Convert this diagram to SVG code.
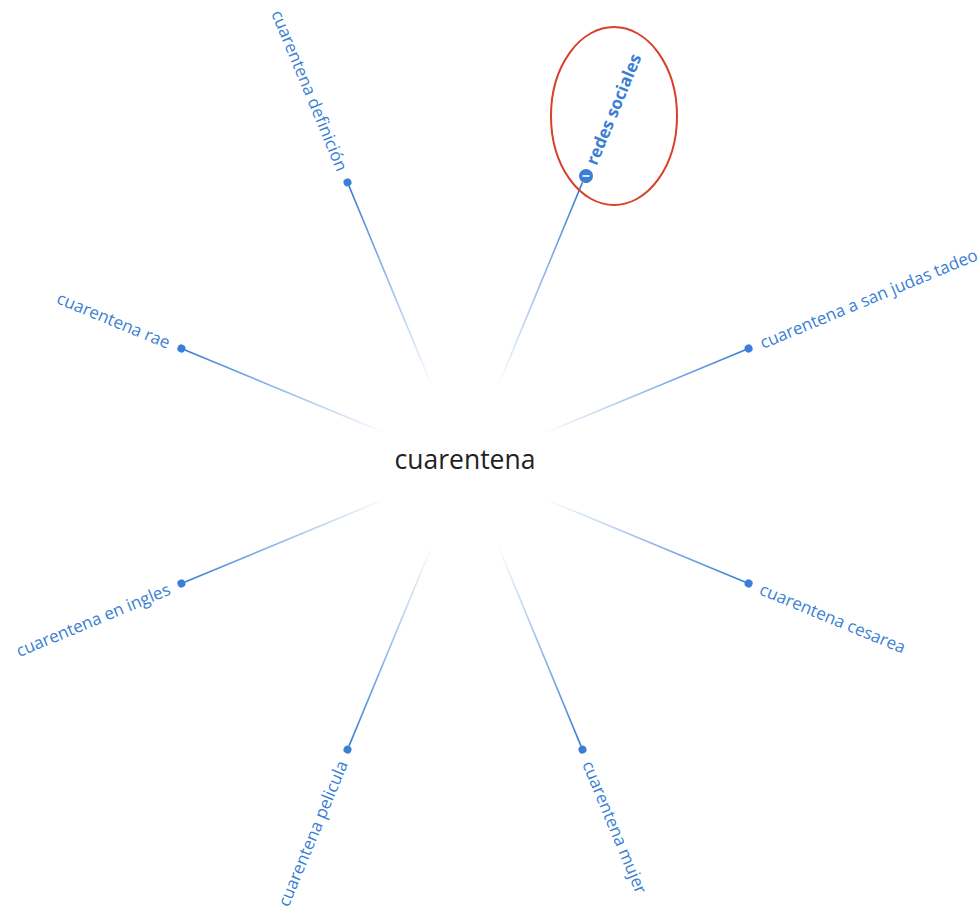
<svg xmlns="http://www.w3.org/2000/svg" width="979" height="910" viewBox="0 0 979 910">
  <style>
    .lbl { font-family: "Open Sans", "Noto Sans", "DejaVu Sans", sans-serif; font-size: 17px; fill: #3a7fd5; }
    .bold { font-weight: bold; }
    .dot { fill: #3a7fd5; }
    .edge { stroke: url(#fade); stroke-width: 1.6; fill: none; }
    .hub { font-family: "Open Sans", "Noto Sans", "DejaVu Sans", sans-serif; font-size: 26.5px; fill: #222; }
  </style>
  <defs>
    <!-- spoke fades out toward the hub; coordinates are along the rotated spoke -->
    <linearGradient id="fade" gradientUnits="userSpaceOnUse" x1="85" y1="0" x2="300" y2="0">
      <stop offset="0" stop-color="#3a7fd5" stop-opacity="0"/>
      <stop offset="1" stop-color="#3a7fd5" stop-opacity="1"/>
    </linearGradient>
  </defs>
  <rect width="979" height="910" fill="#ffffff"/>

  <g id="connectors" transform="translate(465,466)">
    <line class="edge" x1="85" y1="0" x2="307" y2="0" transform="rotate(-22.5)"/>
    <line class="edge" x1="85" y1="0" x2="307" y2="0" transform="rotate(-67.5)"/>
    <line class="edge" x1="85" y1="0" x2="307" y2="0" transform="rotate(-112.5)"/>
    <line class="edge" x1="85" y1="0" x2="307" y2="0" transform="rotate(-157.5)"/>
    <line class="edge" x1="85" y1="0" x2="307" y2="0" transform="rotate(157.5)"/>
    <line class="edge" x1="85" y1="0" x2="307" y2="0" transform="rotate(112.5)"/>
    <line class="edge" x1="85" y1="0" x2="307" y2="0" transform="rotate(67.5)"/>
    <line class="edge" x1="85" y1="0" x2="307" y2="0" transform="rotate(22.5)"/>
  </g>

  <g id="hub">
    <text class="hub" x="465" y="469" text-anchor="middle">cuarentena</text>
  </g>

  <g id="node-san-judas" transform="translate(748.6,348.5) rotate(-22.5)">
    <circle class="dot" r="4"/>
    <text class="lbl" x="13" dy="0.35em">cuarentena a san judas tadeo</text>
  </g>

  <g id="node-redes" transform="translate(586,176) rotate(-67.5)">
    <circle class="dot" r="7"/>
    <line x1="-3.5" y1="0" x2="3.5" y2="0" stroke="#ffffff" stroke-width="1.6" transform="rotate(67.5)"/>
    <text class="lbl bold" x="13" dy="0.35em">redes sociales</text>
  </g>
  <ellipse id="highlight" cx="614" cy="116" rx="63" ry="89" fill="none" stroke="#d9402b" stroke-width="2"/>

  <g id="node-definicion" transform="translate(347.5,182.4) rotate(67.5)">
    <circle class="dot" r="4"/>
    <text class="lbl" x="-13" dy="0.35em" text-anchor="end">cuarentena definición</text>
  </g>

  <g id="node-rae" transform="translate(181.4,348.5) rotate(22.5)">
    <circle class="dot" r="4"/>
    <text class="lbl" x="-13" dy="0.35em" text-anchor="end">cuarentena rae</text>
  </g>

  <g id="node-ingles" transform="translate(181.4,583.5) rotate(-22.5)">
    <circle class="dot" r="4"/>
    <text class="lbl" x="-13" dy="0.35em" text-anchor="end">cuarentena en ingles</text>
  </g>

  <g id="node-pelicula" transform="translate(347.5,749.6) rotate(-67.5)">
    <circle class="dot" r="4"/>
    <text class="lbl" x="-13" dy="0.35em" text-anchor="end">cuarentena pelicula</text>
  </g>

  <g id="node-mujer" transform="translate(582.5,749.6) rotate(67.5)">
    <circle class="dot" r="4"/>
    <text class="lbl" x="13" dy="0.35em">cuarentena mujer</text>
  </g>

  <g id="node-cesarea" transform="translate(748.6,583.5) rotate(22.5)">
    <circle class="dot" r="4"/>
    <text class="lbl" x="13" dy="0.35em">cuarentena cesarea</text>
  </g>
</svg>
